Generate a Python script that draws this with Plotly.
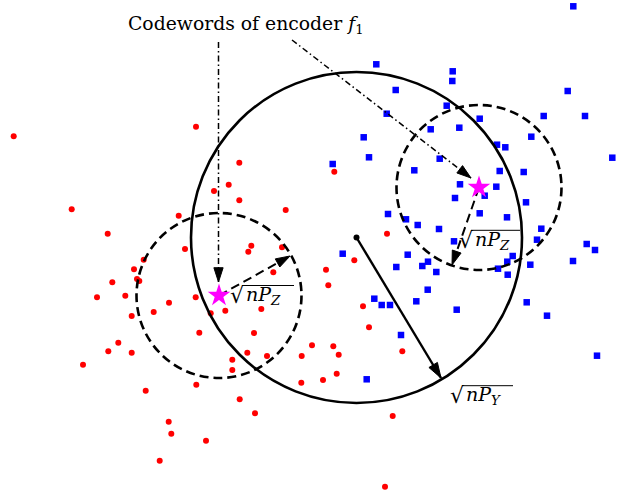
import plotly.graph_objects as go

# ---- data (x, y in chart units; y grows downward) ----
red_x = [13.7, 196, 239.3, 228.7, 214, 239.3, 285.7, 71.7, 107.7, 178.7, 185, 251.3, 248.3, 282,
         143.7, 134, 273.3, 112.3, 137, 139.3, 125.3, 97, 195.7, 169, 153.7, 131.7, 210.7, 225.3,
         261.3, 199.3, 254, 118.3, 108.3, 131.7, 247.3, 232.3, 267, 301.7, 312, 232.3, 83, 196.3,
         145.7, 301.3, 239.7, 255, 168.7, 171.3, 206, 159.7, 387, 354.3, 326, 328.3, 363, 369,
         333.3, 338.7, 402.3, 336.7, 323, 334.3, 392.7, 385]
red_y = [136.3, 126.7, 162.7, 184.7, 191, 200.3, 210, 209.3, 233.7, 215.7, 249, 245.7, 251.7, 247.3,
         259.7, 269.3, 272.3, 282.3, 279, 281, 295.7, 297.3, 297.3, 302.7, 312, 316, 313.3, 310.7,
         309, 332.7, 333, 342.7, 351.3, 352.7, 352.7, 359.7, 356, 356, 345.3, 370, 364.7, 384.7,
         390.7, 382.7, 399.3, 413.3, 421.7, 433.7, 440.7, 460.7, 233.7, 260.3, 269.7, 285.3, 306.3, 327.3,
         346.3, 354.7, 351.3, 373.7, 380, 171.7, 416, 486.7]

blue_x = [573.3, 376.3, 452.7, 452.3, 395.7, 567.7, 446.7, 386.7, 479.7, 543.7, 585, 430.7, 459.3,
          363.7, 531.3, 497, 505.3, 369, 439.7, 612.3, 332.7, 414.3, 499.7, 523.7, 460, 496.3, 455,
          484.7, 526, 388, 406, 417.7, 479.7, 507, 541.3, 439, 537, 454, 586.7, 595, 342.7, 407.7,
          512.7, 507.3, 530.3, 573, 428, 422.3, 396.3, 436.3, 498, 507.7, 427.7, 374.3, 381.7, 390,
          416.3, 526.7, 456.7, 547, 401, 597, 366.7]
blue_y = [6.3, 64.3, 71.3, 81, 90, 91, 105.7, 113.7, 118.7, 116, 116, 129.3, 127.7, 137.3, 136.7,
          144.7, 147.3, 157.3, 158.7, 157.7, 164, 170.3, 171, 172, 184.3, 186.7, 198, 195.7, 202.3,
          214, 219.3, 225, 213.3, 217.3, 228.7, 229, 239.7, 241.3, 244, 250, 253.7, 254.7, 256,
          261.7, 264.7, 261, 261.7, 266, 267, 272, 268.7, 274.7, 289.7, 298.7, 305, 305, 301.3,
          302.3, 309.7, 315.7, 335, 355.7, 379.3]

star_x = [219, 479]
star_y = [295.5, 187.5]

big_center = (356.5, 237.5)
big_radius = 165.5
small_radius = 82.5

title_text = "Codewords of encoder <i>f</i><sub>1</sub>"
radical = "√"
label_z = "<i>nP</i><sub><i>Z</i></sub>"
label_y = "<i>nP</i><sub><i>Y</i></sub>"

# label placement: (text, radical x, text left x, baseline y, vinculum end x)
label_specs = [
    (label_z, 237, 244, 301.5, 294),
    (label_z, 466, 473, 246.3, 520),
    (label_y, 457, 464, 401.7, 513),
]

FONT = "DejaVu Serif"
FS = 18.8
FS_LABEL = 19

fig = go.Figure()

# circles
shapes = [
    dict(type="circle", xref="x", yref="y",
         x0=big_center[0] - big_radius, x1=big_center[0] + big_radius,
         y0=big_center[1] - big_radius, y1=big_center[1] + big_radius,
         line=dict(color="black", width=2.6)),
]
for sx, sy in zip(star_x, star_y):
    shapes.append(dict(type="circle", xref="x", yref="y",
                       x0=sx - small_radius, x1=sx + small_radius,
                       y0=sy - small_radius, y1=sy + small_radius,
                       line=dict(color="black", width=2.6, dash="9px,5px")))

# points
fig.add_trace(go.Scatter(x=red_x, y=red_y, mode="markers",
                         marker=dict(color="#ff0000", size=6, symbol="circle"),
                         hoverinfo="skip", cliponaxis=False))
fig.add_trace(go.Scatter(x=blue_x, y=blue_y, mode="markers",
                         marker=dict(color="#0000ff", size=6.5, symbol="square"),
                         hoverinfo="skip", cliponaxis=False))


def arrow(x0, y0, x1, y1, dash, width, headsize):
    fig.add_trace(go.Scatter(
        x=[x0, x1], y=[y0, y1], mode="lines",
        line=dict(color="black", width=width, dash=dash),
        hoverinfo="skip"))
    fig.add_trace(go.Scatter(
        x=[x0, x1], y=[y0, y1], mode="markers",
        marker=dict(symbol=["circle", "arrow"], size=[0, headsize], color="#000000",
                    opacity=1, angleref="previous", line=dict(width=1, color="#000000")),
        hoverinfo="skip"))


# dash-dot pointers from the title
arrow(218.5, 42, 218.5, 282, "6px,3px,1.5px,3px", 1.5, 15)
arrow(292, 40, 471, 178, "6px,3px,1.5px,3px", 1.5, 15)
# dashed radius arrows of the small circles
arrow(star_x[0], star_y[0], 290, 256, "9px,5px", 2.0, 15)
arrow(star_x[1], star_y[1], 452, 265, "9px,5px", 2.0, 15)
# big radius arrow
arrow(big_center[0], big_center[1], 441, 378, "solid", 2.4, 16)
fig.add_trace(go.Scatter(x=[big_center[0]], y=[big_center[1]], mode="markers",
                         marker=dict(color="black", size=6), hoverinfo="skip"))

# stars
fig.add_trace(go.Scatter(x=star_x, y=star_y, mode="markers",
                         marker=dict(color="#ff00ff", size=17, symbol="star", line=dict(width=0)),
                         hoverinfo="skip"))

annotations = [
    dict(x=246, y=25, text=title_text, showarrow=False, xref="x", yref="y",
         font=dict(family=FONT, size=FS, color="black")),
]
for txt, rx, tx, base, vend in label_specs:
    annotations.append(dict(x=rx, y=base - 6, text=radical, showarrow=False, xref="x", yref="y",
                            font=dict(family=FONT, size=FS_LABEL + 3, color="black")))
    annotations.append(dict(x=tx, y=base - 6, text=txt, showarrow=False, xref="x", yref="y",
                            xanchor="left", font=dict(family=FONT, size=FS_LABEL, color="black")))
    shapes.append(dict(type="line", xref="x", yref="y", x0=rx + 5, x1=vend,
                       y0=base - 16, y1=base - 16, line=dict(color="black", width=1)))

fig.update_layout(
    width=641, height=495,
    margin=dict(l=0, r=0, t=0, b=0),
    paper_bgcolor="white", plot_bgcolor="white",
    showlegend=False,
    xaxis=dict(range=[0, 641], visible=False, fixedrange=True),
    yaxis=dict(range=[495, 0], visible=False, fixedrange=True),
    shapes=shapes,
    annotations=annotations,
)

fig.write_html("out.html", config={"displayModeBar": False, "staticPlot": True},
               post_script="document.body.style.margin='0px';document.body.style.overflow='hidden';")
